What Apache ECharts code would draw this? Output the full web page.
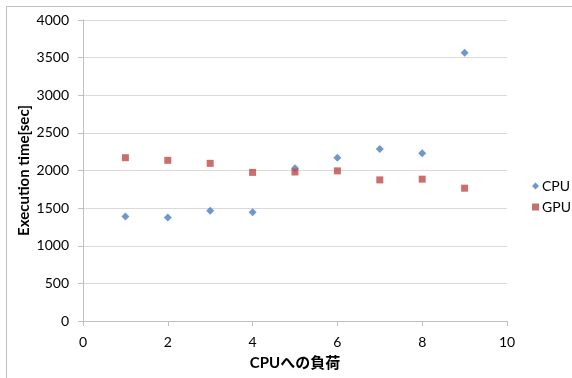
<!DOCTYPE html>
<html><head><meta charset="utf-8">
<script src="https://cdn.jsdelivr.net/npm/echarts@6/dist/echarts.min.js"></script>
<style>html,body{margin:0;padding:0;background:#fff}#c{width:572px;height:378px}</style>
</head><body><div id="c"></div>
<script>
const xLoad = [1, 2, 3, 4, 5, 6, 7, 8, 9];
const cpuTimes = [1390, 1375, 1465, 1445, 2030, 2170, 2285, 2230, 3565];
const gpuTimes = [2170, 2135, 2095, 1975, 1980, 1995, 1875, 1885, 1765];
const seriesNames = ['CPU', 'GPU'];
const xTitle = 'CPUへの負荷';
const yTitle = 'Execution time[sec]';

const FONT = "Lato, 'Noto Sans CJK JP', sans-serif";
const chart = echarts.init(document.getElementById('c'), null, {renderer: 'canvas'});
chart.setOption({
  animation: false,
  textStyle: {fontFamily: FONT},
  graphic: [{
    type: 'rect', shape: {x: 6.5, y: 6.5, width: 600, height: 400},
    style: {fill: 'none', stroke: '#bfbfbf', lineWidth: 1}, silent: true, z: -1
  }],
  grid: {left: 83, right: 65, top: 20, bottom: 57},
  legend: {
    orient: 'vertical', left: 527, top: 174, itemGap: 7,
    itemWidth: 7, itemHeight: 7,
    textStyle: {fontFamily: FONT, fontSize: 14, color: '#000', padding: [0, 0, 0, -2]},
    data: seriesNames
  },
  xAxis: {
    type: 'value', min: 0, max: 10, interval: 2,
    name: xTitle, nameLocation: 'middle', nameGap: 35, nameMoveOverlap: false,
    nameTextStyle: {fontFamily: FONT, fontSize: 15, fontWeight: 'bold', color: '#000'},
    axisLine: {show: true, lineStyle: {color: '#bfbfbf'}},
    axisTick: {show: true, length: 5, inside: false, lineStyle: {color: '#bfbfbf'}},
    axisLabel: {fontSize: 14, color: '#000', margin: 14, fontFamily: FONT},
    splitLine: {show: false}
  },
  yAxis: {
    type: 'value', min: 0, max: 4000, interval: 500,
    name: yTitle, nameLocation: 'middle', nameGap: 51, nameRotate: 90, nameMoveOverlap: false,
    nameTextStyle: {fontFamily: FONT, fontSize: 15, fontWeight: 'bold', color: '#000'},
    axisLine: {show: true, lineStyle: {color: '#bfbfbf'}},
    axisTick: {show: true, length: 5, lineStyle: {color: '#bfbfbf'}},
    axisLabel: {fontSize: 14, color: '#000', margin: 14, fontFamily: FONT,
                formatter: v => String(v)},
    splitLine: {show: true, lineStyle: {color: '#d9d9d9', width: 1}}
  },
  series: [
    {name: seriesNames[0], type: 'scatter', symbol: 'diamond', symbolSize: 8,
     itemStyle: {color: '#4a7ebb'}, data: xLoad.map((x, i) => [x, cpuTimes[i]])},
    {name: seriesNames[1], type: 'scatter', symbol: 'rect', symbolSize: 7,
     itemStyle: {color: '#be4b48'}, data: xLoad.map((x, i) => [x, gpuTimes[i]])}
  ]
});
</script></body></html>
